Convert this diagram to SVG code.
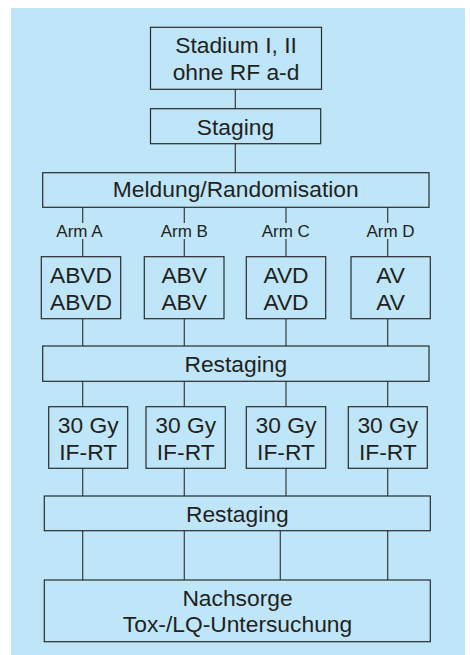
<svg xmlns="http://www.w3.org/2000/svg" width="470" height="655" viewBox="0 0 470 655">
<style>
.box{fill:none;stroke:#2b2b2b;stroke-width:1.2}
.ln{stroke:#3a3a3a;stroke-width:1.2;fill:none}
.t{font-family:"Liberation Sans",Arial,sans-serif;font-size:22.8px;fill:#231f20;text-anchor:middle}
.s{font-family:"Liberation Sans",Arial,sans-serif;font-size:17px;fill:#231f20;text-anchor:middle}
</style>
<rect x="11" y="8" width="454" height="647" fill="#bee6f8"/>
<g id="connectors">
<path class="ln" d="M235.3 89.3V108.7M235.3 143.7V172.7"/>
<path class="ln" d="M82.7 207.3V223M184.3 207.3V223M286 207.3V223M387.7 207.3V223"/>
<path class="ln" d="M82.7 239V256.7M184.3 239V256.7M286 239V256.7M387.7 239V256.7"/>
<path class="ln" d="M82.7 318.7V346M184.3 318.7V346M286 318.7V346M387.7 318.7V346"/>
<path class="ln" d="M82.7 381.3V406.7M184.3 381.3V406.7M286 381.3V406.7M387.7 381.3V406.7"/>
<path class="ln" d="M82.7 468.3V496M184.3 468.3V496M286 468.3V496M387.7 468.3V496"/>
<path class="ln" d="M82.7 530.7V580M184.3 530.7V580M280.3 530.7V580M387.7 530.7V580"/>
</g>
<g id="stadium"><rect class="box" x="150.5" y="27.3" width="171" height="62"/><text class="t" x="236" y="53.3">Stadium I, II</text><text class="t" x="236" y="80">ohne RF a-d</text></g>
<g id="staging"><rect class="box" x="150.5" y="108.7" width="170.2" height="35"/><text class="t" x="235.5" y="134.5">Staging</text></g>
<g id="meldung"><rect class="box" x="42.7" y="172.7" width="386.3" height="34.6"/><text class="t" x="235.8" y="197.3">Meldung/Randomisation</text></g>
<g id="armA-label"><text class="s" x="79.5" y="236.7">Arm A</text></g>
<g id="armB-label"><text class="s" x="184.3" y="236.7">Arm B</text></g>
<g id="armC-label"><text class="s" x="285.8" y="236.7">Arm C</text></g>
<g id="armD-label"><text class="s" x="390.5" y="236.7">Arm D</text></g>
<g id="armA"><rect class="box" x="41.3" y="256.7" width="79.4" height="62"/><text class="t" x="81" y="283.3">ABVD</text><text class="t" x="81" y="310">ABVD</text></g>
<g id="armB"><rect class="box" x="144.3" y="256.7" width="79.7" height="62"/><text class="t" x="184.2" y="283.3">ABV</text><text class="t" x="184.2" y="310">ABV</text></g>
<g id="armC"><rect class="box" x="246.3" y="256.7" width="79.4" height="62"/><text class="t" x="286" y="283.3">AVD</text><text class="t" x="286" y="310">AVD</text></g>
<g id="armD"><rect class="box" x="351" y="256.7" width="79.3" height="62"/><text class="t" x="390.7" y="283.3">AV</text><text class="t" x="390.7" y="310">AV</text></g>
<g id="restaging1"><rect class="box" x="42.7" y="346" width="386.3" height="35.3"/><text class="t" x="235.8" y="371.7">Restaging</text></g>
<g id="rtA"><rect class="box" x="48.7" y="406.7" width="79" height="61.6"/><text class="t" x="88.2" y="433.3">30 Gy</text><text class="t" x="88.2" y="460">IF-RT</text></g>
<g id="rtB"><rect class="box" x="146" y="406.7" width="79.3" height="61.6"/><text class="t" x="185.7" y="433.3">30 Gy</text><text class="t" x="185.7" y="460">IF-RT</text></g>
<g id="rtC"><rect class="box" x="246.3" y="406.7" width="79.4" height="61.6"/><text class="t" x="286" y="433.3">30 Gy</text><text class="t" x="286" y="460">IF-RT</text></g>
<g id="rtD"><rect class="box" x="348.3" y="406.7" width="79" height="61.6"/><text class="t" x="387.8" y="433.3">30 Gy</text><text class="t" x="387.8" y="460">IF-RT</text></g>
<g id="restaging2"><rect class="box" x="44.3" y="496" width="386" height="34.7"/><text class="t" x="237.3" y="521.7">Restaging</text></g>
<g id="nachsorge"><rect class="box" x="44.3" y="580" width="386" height="61.7"/><text class="t" x="237.5" y="605.7">Nachsorge</text><text class="t" x="237.5" y="632.3">Tox-/LQ-Untersuchung</text></g>
</svg>
